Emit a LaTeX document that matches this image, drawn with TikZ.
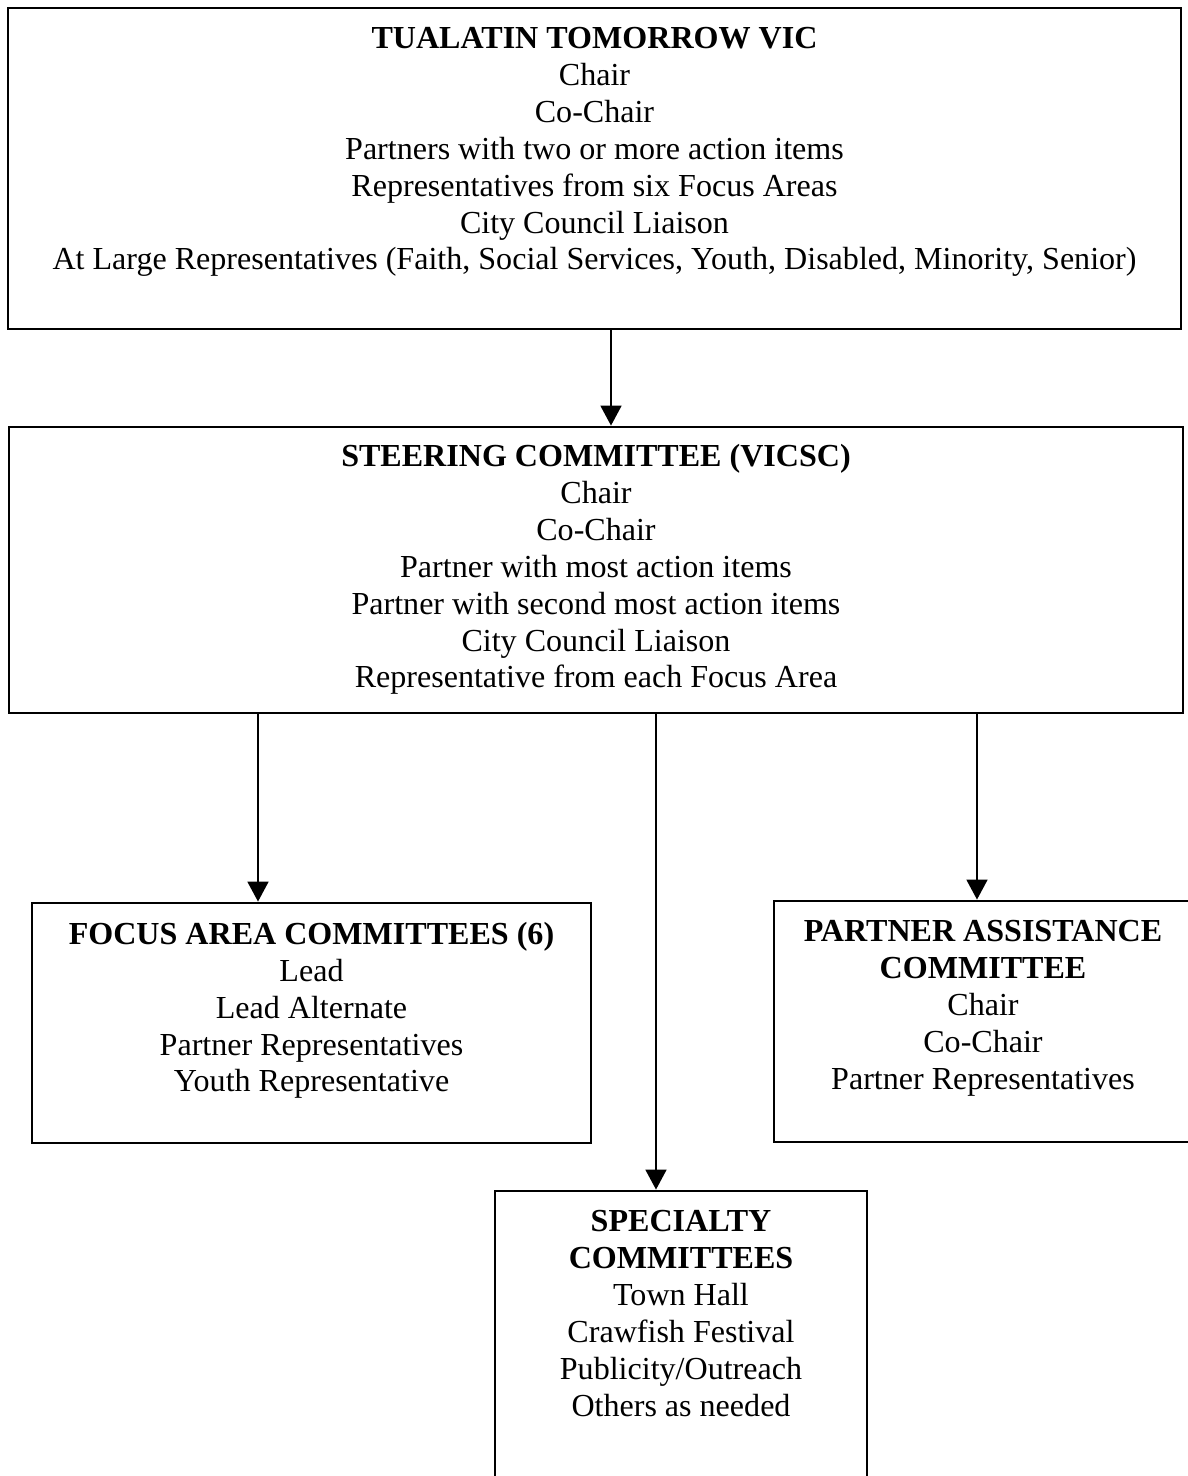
\documentclass[tikz,border=0pt]{standalone}
\usepackage{fontspec}
\setmainfont{Liberation Serif}
\usetikzlibrary{positioning,fit,arrows.meta}

\begin{document}
\begin{tikzpicture}[x=0.025cm,y=-0.025cm,
    box/.style={draw, line width=2pt, inner sep=0pt, fit={#1}},
    boxtext/.style={align=center, inner sep=0pt, font=\fontsize{22.8}{26.2}\selectfont},
    arrow/.style={line width=1.7pt, -{Triangle[length=0.5cm,width=0.52cm]}}]
    \clip (0,0) rectangle (1188,1476);
    % boxes
    \node[box={(8,8) (1181,329)}] (vic) {};
    \node[box={(9,427) (1183,713)}] (vicsc) {};
    \node[box={(32,903) (591,1143)}] (focus) {};
    \node[box={(774,901) (1192,1142)}] (partner) {};
    \node[box={(495,1191) (867,1500)}] (special) {};
    % texts
    \node[boxtext, below=0.52cm of vic.north] (vicText) {\textbf{TUALATIN TOMORROW VIC}\\Chair\\Co-Chair\\Partners with two or more action items\\Representatives from six Focus Areas\\City Council Liaison\\At Large Representatives (Faith, Social Services, Youth, Disabled, Minority, Senior)};
    \node[boxtext, below=0.47cm of vicsc.north] (vicscText) {\textbf{STEERING COMMITTEE (VICSC)}\\Chair\\Co-Chair\\Partner with most action items\\Partner with second most action items\\City Council Liaison\\Representative from each Focus Area};
    \node[boxtext, below=0.51cm of focus.north] (focusText) {\textbf{FOCUS AREA COMMITTEES (6)}\\Lead\\Lead Alternate\\Partner Representatives\\Youth Representative};
    \node[boxtext, below=0.52cm of partner.north] (partnerText) {\textbf{PARTNER ASSISTANCE}\\\textbf{COMMITTEE}\\Chair\\Co-Chair\\Partner Representatives};
    \node[boxtext, below=0.52cm of special.north] (specialText) {\textbf{SPECIALTY}\\\textbf{COMMITTEES}\\Town Hall\\Crawfish Festival\\Publicity/Outreach\\Others as needed};
    % connectors
    \coordinate (c1) at (611,0);
    \coordinate (c2) at (258,0);
    \coordinate (c3) at (656,0);
    \coordinate (c4) at (977,0);
    \draw[arrow] (vic.south -| c1) -- (vicsc.north -| c1);
    \draw[arrow] (vicsc.south -| c2) -- (focus.north -| c2);
    \draw[arrow] (vicsc.south -| c3) -- (special.north -| c3);
    \draw[arrow] (vicsc.south -| c4) -- (partner.north -| c4);
\end{tikzpicture}
\end{document}
